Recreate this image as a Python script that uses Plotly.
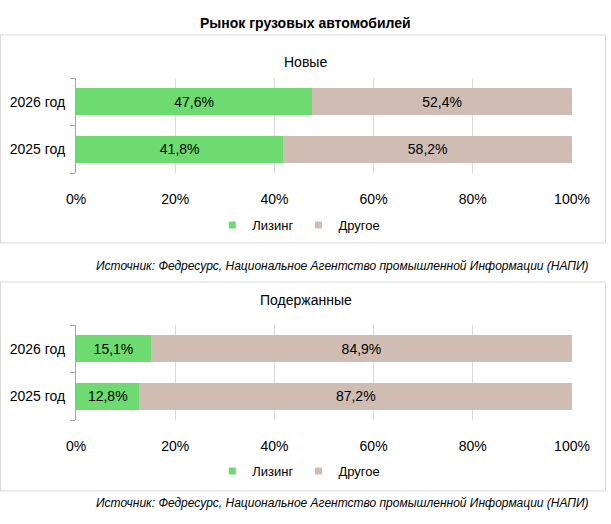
import plotly.graph_objects as go

W, H = 611, 524

years = ["2025 год", "2026 год"]
series = ["Лизинг", "Другое"]
new_leasing = [41.8, 47.6]
new_other = [58.2, 52.4]
used_leasing = [12.8, 15.1]
used_other = [87.2, 84.9]
x_ticks = [0, 20, 40, 60, 80, 100]
x_labels = ["0%", "20%", "40%", "60%", "80%", "100%"]

title = "Рынок грузовых автомобилей"
panel_titles = ["Новые", "Подержанные"]
source = "Источник: Федресурс, Национальное Агентство промышленной Информации (НАПИ)"

colors = ["#6ddb6f", "#cfbcb3"]
FONT = "Liberation Sans, Arial, sans-serif"


def px_x(v):
    return v / W


def px_y(v):
    return 1 - v / H


def fmt(vals):
    return [f"{v:.1f}".replace(".", ",") + "%" for v in vals]


fig = go.Figure()

panels = [
    (new_leasing, new_other, "x", "y", "legend"),
    (used_leasing, used_other, "x2", "y2", "legend2"),
]
for lz, oth, xa, ya, lg in panels:
    for name, vals, col in zip(series, [lz, oth], colors):
        fig.add_trace(go.Bar(
            y=years, x=vals, name=name, orientation="h",
            marker=dict(color=col, line=dict(width=0)),
            text=fmt(vals), textposition="inside", insidetextanchor="middle",
            textfont=dict(color="#000000", size=14, family=FONT),
            xaxis=xa, yaxis=ya, showlegend=False, hoverinfo="skip",
        ))
    # legend entries with small square keys
    for name, col in zip(series, colors):
        fig.add_trace(go.Scatter(
            x=[None], y=[None], mode="markers", name=name,
            marker=dict(symbol="square", size=7, color=col),
            xaxis=xa, yaxis=ya, legend=lg, hoverinfo="skip",
        ))

xaxis_common = dict(
    range=[0, 100], tickvals=x_ticks, ticktext=x_labels,
    showgrid=True, gridcolor="#d9d9d9", gridwidth=1,
    zeroline=False, showline=False, automargin=False,
    ticks="outside", ticklen=13, tickcolor="rgba(0,0,0,0)",
    tickfont=dict(size=14, color="#000000", family=FONT),
    fixedrange=True,
)
yaxis_common = dict(
    type="category", categoryorder="array", categoryarray=years,
    showline=True, linecolor="#a6a6a6", linewidth=1, automargin=False,
    ticks="outside", ticklen=5, tickcolor="#a6a6a6", tickson="boundaries",
    ticklabelstandoff=7,
    showgrid=False,
    tickfont=dict(size=14, color="#000000", family=FONT),
    fixedrange=True,
)
legend_common = dict(
    orientation="h", x=0.489, xanchor="center", yanchor="middle",
    font=dict(size=13, family=FONT), itemwidth=30, traceorder="normal",
    bgcolor="rgba(0,0,0,0)",
)

fig.update_layout(
    width=W, height=H,
    margin=dict(l=0, r=0, t=0, b=0, pad=0, autoexpand=False),
    paper_bgcolor="white", plot_bgcolor="white",
    barmode="stack", bargap=0.43,
    font=dict(family=FONT, color="#000000"),
    xaxis=dict(domain=[px_x(76), px_x(572)], anchor="y", **xaxis_common),
    yaxis=dict(domain=[px_y(173), px_y(78)], anchor="x", **yaxis_common),
    xaxis2=dict(domain=[px_x(76), px_x(572)], anchor="y2", **xaxis_common),
    yaxis2=dict(domain=[px_y(420), px_y(325)], anchor="x2", **yaxis_common),
    legend=dict(y=px_y(225), **legend_common),
    legend2=dict(y=px_y(471), **legend_common),
    showlegend=True,
)

# panel frames
for top, bottom in [(35, 243), (282, 491)]:
    fig.add_shape(type="rect", xref="paper", yref="paper",
                  x0=px_x(0.5), x1=px_x(605.5), y0=px_y(bottom), y1=px_y(top),
                  line=dict(color="#d9d9d9", width=1), fillcolor="rgba(0,0,0,0)")

fig.add_annotation(text="<b>" + title + "</b>", x=0.5, y=px_y(13), xref="paper", yref="paper",
                   showarrow=False, font=dict(size=14, family=FONT))
for txt, yy in zip(panel_titles, [52, 300]):
    fig.add_annotation(text=txt, x=0.5, y=px_y(yy), xref="paper", yref="paper",
                       showarrow=False, font=dict(size=14, family=FONT))
for yy in [266, 512]:
    fig.add_annotation(text="<i>" + source + "</i>", x=px_x(591), y=px_y(yy),
                       xref="paper", yref="paper", xanchor="right", showarrow=False,
                       font=dict(size=12, family=FONT))

fig.write_html("out.html", config={"displayModeBar": False},
               post_script="document.body.style.margin='0';")
